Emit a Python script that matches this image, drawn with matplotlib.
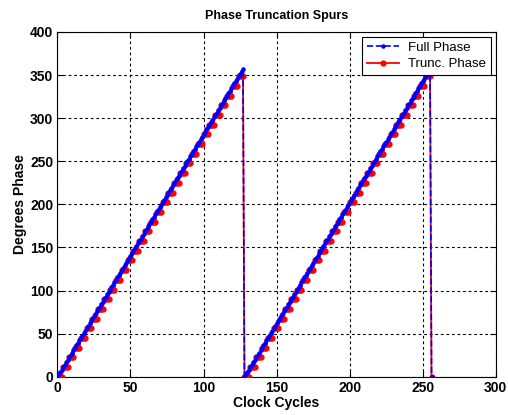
import matplotlib
matplotlib.use('Agg')
import matplotlib.pyplot as plt

plt.rcParams['font.family'] = ['Liberation Sans', 'DejaVu Sans']

# one period of the phase accumulator (degrees)
period_full = [
    0, 2.81, 5.63, 8.44, 11.25, 14.06, 16.88, 19.69,
    22.5, 25.31, 28.13, 30.94, 33.75, 36.56, 39.38, 42.19,
    45, 47.81, 50.63, 53.44, 56.25, 59.06, 61.88, 64.69,
    67.5, 70.31, 73.13, 75.94, 78.75, 81.56, 84.38, 87.19,
    90, 92.81, 95.63, 98.44, 101.25, 104.06, 106.88, 109.69,
    112.5, 115.31, 118.13, 120.94, 123.75, 126.56, 129.38, 132.19,
    135, 137.81, 140.63, 143.44, 146.25, 149.06, 151.88, 154.69,
    157.5, 160.31, 163.13, 165.94, 168.75, 171.56, 174.38, 177.19,
    180, 182.81, 185.63, 188.44, 191.25, 194.06, 196.88, 199.69,
    202.5, 205.31, 208.13, 210.94, 213.75, 216.56, 219.38, 222.19,
    225, 227.81, 230.63, 233.44, 236.25, 239.06, 241.88, 244.69,
    247.5, 250.31, 253.13, 255.94, 258.75, 261.56, 264.38, 267.19,
    270, 272.81, 275.63, 278.44, 281.25, 284.06, 286.88, 289.69,
    292.5, 295.31, 298.13, 300.94, 303.75, 306.56, 309.38, 312.19,
    315, 317.81, 320.63, 323.44, 326.25, 329.06, 331.88, 334.69,
    337.5, 340.31, 343.13, 345.94, 348.75, 351.56, 354.38, 357.19,
]
period_trunc = [
    0, 0, 0, 0, 11.25, 11.25, 11.25, 11.25,
    22.5, 22.5, 22.5, 22.5, 33.75, 33.75, 33.75, 33.75,
    45, 45, 45, 45, 56.25, 56.25, 56.25, 56.25,
    67.5, 67.5, 67.5, 67.5, 78.75, 78.75, 78.75, 78.75,
    90, 90, 90, 90, 101.25, 101.25, 101.25, 101.25,
    112.5, 112.5, 112.5, 112.5, 123.75, 123.75, 123.75, 123.75,
    135, 135, 135, 135, 146.25, 146.25, 146.25, 146.25,
    157.5, 157.5, 157.5, 157.5, 168.75, 168.75, 168.75, 168.75,
    180, 180, 180, 180, 191.25, 191.25, 191.25, 191.25,
    202.5, 202.5, 202.5, 202.5, 213.75, 213.75, 213.75, 213.75,
    225, 225, 225, 225, 236.25, 236.25, 236.25, 236.25,
    247.5, 247.5, 247.5, 247.5, 258.75, 258.75, 258.75, 258.75,
    270, 270, 270, 270, 281.25, 281.25, 281.25, 281.25,
    292.5, 292.5, 292.5, 292.5, 303.75, 303.75, 303.75, 303.75,
    315, 315, 315, 315, 326.25, 326.25, 326.25, 326.25,
    337.5, 337.5, 337.5, 337.5, 348.75, 348.75, 348.75, 348.75,
]

full_phase = period_full + period_full + [0]
trunc_phase = period_trunc + period_trunc + [0]
cycles = list(range(len(full_phase)))

fig = plt.figure(figsize=(5.08, 4.15), dpi=100)
ax = fig.add_axes([0.113, 0.092, 0.863, 0.831])

ax.plot(cycles, trunc_phase, '-', color='red', marker='.', ms=7, lw=1.3, zorder=3,
        label='Trunc. Phase')
ax.plot(cycles, full_phase, '--', color='blue', marker='.', ms=4.5, lw=1.2, zorder=4,
        label='Full Phase')

ax.set_xlim(0, 300)
ax.set_ylim(0, 400)
ax.set_xticks(range(0, 301, 50))
ax.set_yticks(range(0, 401, 50))
ax.grid(True, color='black', linestyle=(0, (2.5, 2.5)), lw=0.8)
ax.tick_params(direction='in', top=True, right=True, length=4, labelsize=10, pad=3)
for lbl in ax.get_xticklabels() + ax.get_yticklabels():
    lbl.set_fontweight('bold')

ax.set_title('Phase Truncation Spurs', fontsize=9, fontweight='bold', pad=9)
ax.set_xlabel('Clock Cycles', fontsize=10, fontweight='bold', labelpad=1)
ax.set_ylabel('Degrees Phase', fontsize=10, fontweight='bold', labelpad=2)

h, l = ax.get_legend_handles_labels()
leg = ax.legend(h[::-1], l[::-1], loc='upper right', fontsize=9.5, fancybox=False,
                framealpha=1, edgecolor='black', borderaxespad=0.4,
                handlelength=2.4, handletextpad=0.7, labelspacing=0.3, borderpad=0.35)
leg.get_frame().set_linewidth(0.8)

fig.savefig('out.png', dpi=100)
